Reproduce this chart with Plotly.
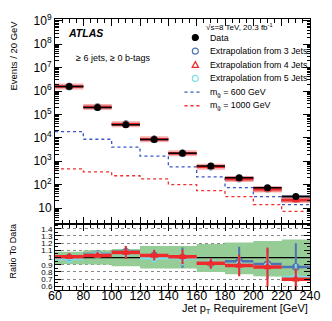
import plotly.graph_objects as go

# --- data ---
bin_edges = [60, 80, 100, 120, 140, 160, 180, 200, 220, 240]
bin_centers = [70, 90, 110, 130, 150, 170, 190, 210, 230]
half_width = 10

data_events = [1.55e6, 2.0e5, 3.6e4, 8.5e3, 2.2e3, 630, 195, 74, 31]

extrap3_events = [1.55e6, 2.1e5, 3.9e4, 8.8e3, 2.2e3, 580, 185, 67, 27]
extrap4_events = [1.57e6, 2.06e5, 3.85e4, 8.8e3, 2.22e3, 580, 174, 64, 22]
extrap5_events = [1.52e6, 2.08e5, 3.8e4, 8.4e3, 2.18e3, 585, 176, 65, 23]

sig600_events = [1.85e4, 8.7e3, 4.0e3, 1.65e3, 570, 214, 74, 31, 14]
sig1000_events = [470, 350, 240, 178, 100, 55, 31, 14, 7.2]

ratio3 = [1.00, 1.05, 1.08, 1.03, 1.00, 0.92, 0.95, 0.91, 0.87]
ratio3_err = [0.02, 0.04, 0.08, 0.08, 0.14, 0.07, 0.20, 0.21, 0.33]
ratio4 = [1.01, 1.03, 1.07, 1.03, 1.01, 0.92, 0.89, 0.87, 0.70]
ratio4_err = [0.02, 0.03, 0.09, 0.07, 0.10, 0.07, 0.15, 0.27, 0.15]
ratio5 = [0.98, 1.04, 1.06, 0.99, 0.99, 0.93, 0.90, 0.88, 0.73]
ratio5_err = [0.02, 0.03, 0.06, 0.06, 0.10, 0.06, 0.12, 0.18, 0.18]

data_unc_up = [0.08, 0.10, 0.12, 0.16, 0.16, 0.19, 0.21, 0.23, 0.25]
data_unc_dn = [0.09, 0.10, 0.12, 0.15, 0.15, 0.20, 0.23, 0.26, 0.27]

ratio_ticks = [0.6, 0.7, 0.8, 0.9, 1.0, 1.1, 1.2, 1.3, 1.4]
ratio_ticktext = ["0.6", "0.7", "0.8", "0.9", "1", "1.1", "1.2", "1.3", "1.4"]
log_ticks = [10, 1e2, 1e3, 1e4, 1e5, 1e6, 1e7, 1e8, 1e9]
log_ticktext = ["10"] + [f"10<sup>{n}</sup>" for n in range(2, 10)]

# Couleurs
C_BLUE = "#4f72b3"
C_RED = "#ee2a2a"
C_CYAN = "#7fdde6"
C_GREEN = "#96cd96"
FONT = "Liberation Sans, Arial, sans-serif"

# placement (pixels of the 332x321 page)
W, H = 332, 321
L, R, T, B = 55, 313, 12, 290


def px2x(px):
    return (px - L) / (R - L)


def py2y(py):
    return (B - py) / (B - T)


def boites(lo, hi):
    xs, ys = [], []
    for i in range(len(lo)):
        a, b = bin_edges[i], bin_edges[i + 1]
        xs += [a, b, b, a, a, None]
        ys += [hi[i], hi[i], lo[i], lo[i], hi[i], None]
    return xs, ys


def segments(vals):
    xs, ys = [], []
    for i, v in enumerate(vals):
        xs += [bin_edges[i], bin_edges[i + 1], None]
        ys += [v, v, None]
    return xs, ys


fig = go.Figure()

# ---- panneau principal ----
for vals, col in [(sig600_events, "#3a55c8"), (sig1000_events, "#ee3030")]:
    fig.add_trace(go.Scatter(
        x=bin_edges, y=vals + [vals[-1]], mode="lines", line_shape="hv",
        line=dict(color=col, width=1.3, dash="dot"),
        xaxis="x2", yaxis="y2", hoverinfo="skip"))

extraps = [
    (extrap3_events, ratio3_err, "rgba(110,120,150,0.75)", C_BLUE, "circle-open", False),
    (extrap5_events, ratio5_err, "rgba(140,225,235,0.7)", C_CYAN, "circle-open", False),
    (extrap4_events, ratio4_err, "rgba(245,120,120,0.6)", C_RED, "triangle-up-open", True),
]
for vals, err, band, col, sym, halo in extraps:
    lo = [v * (1 - e) for v, e in zip(vals, err)]
    hi = [v * (1 + e) for v, e in zip(vals, err)]
    bx, by = boites(lo, hi)
    fig.add_trace(go.Scatter(x=bx, y=by, mode="lines", fill="toself",
                             fillcolor=band, line=dict(width=0),
                             xaxis="x2", yaxis="y2", hoverinfo="skip"))
    sx, sy = segments(vals)
    if halo:
        fig.add_trace(go.Scatter(x=sx, y=sy, mode="lines",
                                 line=dict(color=band, width=6),
                                 xaxis="x2", yaxis="y2", hoverinfo="skip"))
    fig.add_trace(go.Scatter(x=sx, y=sy, mode="lines",
                             line=dict(color=col, width=2.5),
                             xaxis="x2", yaxis="y2", hoverinfo="skip"))
    fig.add_trace(go.Scatter(x=bin_centers, y=vals, mode="markers",
                             marker=dict(symbol=sym, size=6, color=col,
                                         line=dict(width=1.5, color=col)),
                             xaxis="x2", yaxis="y2", hoverinfo="skip"))

fig.add_trace(go.Scatter(
    x=bin_centers, y=data_events, mode="markers",
    marker=dict(color="black", size=7),
    error_x=dict(type="constant", value=half_width, thickness=1.5,
                 width=0, color="black"),
    xaxis="x2", yaxis="y2"))

# ---- panneau ratio ----
gx, gy_top, gy_bot = [], [], []
for i in range(len(bin_centers)):
    gx += [bin_edges[i], bin_edges[i + 1]]
    gy_top += [1 + data_unc_up[i]] * 2
    gy_bot += [1 - data_unc_dn[i]] * 2
fig.add_trace(go.Scatter(
    x=gx + gx[::-1], y=gy_top + gy_bot[::-1], mode="lines", fill="toself",
    fillcolor=C_GREEN, line=dict(width=0), hoverinfo="skip"))
fig.add_trace(go.Scatter(x=[bin_edges[0], bin_edges[-1]], y=[1, 1],
                         mode="lines", line=dict(color="black", width=1.2),
                         hoverinfo="skip"))

for r, e, col, sym, thx in [
    (ratio3, ratio3_err, C_BLUE, "circle-open", 2.5),
    (ratio5, ratio5_err, C_CYAN, "circle-open", 2.5),
    (ratio4, ratio4_err, C_RED, "triangle-up-open", 3.5),
]:
    fig.add_trace(go.Scatter(
        x=bin_centers, y=r, mode="markers",
        marker=dict(symbol=sym, size=6, color=col, line=dict(width=1.5, color=col)),
        error_x=dict(type="constant", value=half_width, thickness=thx, width=0, color=col),
        error_y=dict(type="data", array=e, thickness=2, width=0, color=col),
        hoverinfo="skip"))

# ---- axes ----
ymid = py2y(222)
axe_x = dict(range=[bin_edges[0], bin_edges[-1]], tickvals=bin_edges,
             ticks="inside", ticklen=7, tickcolor="black", showline=True,
             linecolor="black", linewidth=1, mirror="allticks", showgrid=False,
             zeroline=False,
             minor=dict(dtick=5, ticks="inside", ticklen=4, tickcolor="black"))

fig.update_layout(
    width=W, height=H,
    margin=dict(l=L, r=W - R, t=T, b=H - B),
    paper_bgcolor="white", plot_bgcolor="white",
    showlegend=False,
    font=dict(family=FONT, color="black"),
    xaxis=dict(axe_x, domain=[0, 1], anchor="y", ticklabelstandoff=-6,
               tickfont=dict(size=12.5, family=FONT)),
    xaxis2=dict(axe_x, domain=[0, 1], anchor="y2", matches="x",
                showticklabels=False),
    yaxis=dict(domain=[0, ymid], range=[0.55, 1.47], tickvals=ratio_ticks,
               ticktext=ratio_ticktext, ticks="inside", ticklen=6,
               tickcolor="black", showline=True, linecolor="black",
               mirror="allticks", showgrid=True, gridcolor="#888888",
               griddash="dot", gridwidth=0.8, zeroline=False,
               tickfont=dict(size=8, family=FONT),
               minor=dict(dtick=0.05, ticks="inside", ticklen=3, tickcolor="black")),
    yaxis2=dict(domain=[ymid, 1], type="log", range=[0.33, 9.08],
                tickvals=log_ticks, ticktext=log_ticktext, ticks="inside",
                ticklen=7, tickcolor="black", showline=True,
                linecolor="black", mirror="allticks", showgrid=False,
                zeroline=False, tickfont=dict(size=12, family=FONT),
                minor=dict(tickvals=[k * 10 ** n for n in range(0, 9) for k in range(2, 10)],
                           ticks="inside", ticklen=3.5, tickcolor="black")),
)

# ---- textes ----
def note(txt, x, y, size=9, xanchor="left", yanchor="middle", **kw):
    fig.add_annotation(text=txt, x=px2x(x), y=py2y(y), xref="paper", yref="paper",
                       xanchor=xanchor, yanchor=yanchor, showarrow=False,
                       font=dict(size=size, family=FONT, color="black"), **kw)

note("<b><i>ATLAS</i></b>", 66, 26, size=10.5)
note("≥ 6 jets, ≥ 0 b-tags", 74, 52, size=9)
note("√s=8 TeV, 20.3 fb<sup>-1</sup>", 206, 20, size=8)
note("Events / 20 GeV", 12, 12, size=9.5, xanchor="center", yanchor="top", textangle=-90)
note("Ratio To Data", 12, 251, size=9, xanchor="center", textangle=-90)
note("Jet p<sub>T</sub> Requirement [GeV]", 313, 310, size=11, xanchor="right")

# legende
rows = [31, 45, 59, 73, 87, 101]
labels = ["Data", "Extrapolation from 3 Jets", "Extrapolation from 4 Jets",
          "Extrapolation from 5 Jets", "m<sub>g̃</sub> = 600 GeV",
          "m<sub>g̃</sub> = 1000 GeV"]
for yy, lab in zip(rows, labels):
    note(lab, 210, yy, size=8.8)

mx = 197
for yy, col, filled in [(rows[0], "black", True), (rows[1], C_BLUE, False),
                        (rows[3], C_CYAN, False)]:
    fig.add_shape(type="circle", xref="paper", yref="paper",
                  xsizemode="pixel", ysizemode="pixel",
                  xanchor=px2x(mx), yanchor=py2y(yy), x0=-3, x1=3, y0=-3, y1=3,
                  fillcolor=col if filled else "rgba(0,0,0,0)",
                  line=dict(color=col, width=1.2))
fig.add_shape(type="path", xref="paper", yref="paper",
              xsizemode="pixel", ysizemode="pixel",
              xanchor=px2x(mx), yanchor=py2y(rows[2]),
              path="M -3.2,-2.6 L 3.2,-2.6 L 0,3.2 Z",
              line=dict(color=C_RED, width=1.2))
for yy, col in [(rows[4], "#3a55c8"), (rows[5], "#ee3030")]:
    fig.add_shape(type="line", xref="paper", yref="paper",
                  x0=px2x(186), x1=px2x(204), y0=py2y(yy), y1=py2y(yy),
                  line=dict(color=col, width=1.3, dash="dot"))

# page sans marge pour que la figure tombe pile dans la fenetre
fig.write_html("out.html", config={"displayModeBar": False},
               post_script="document.body.style.margin='0';")
